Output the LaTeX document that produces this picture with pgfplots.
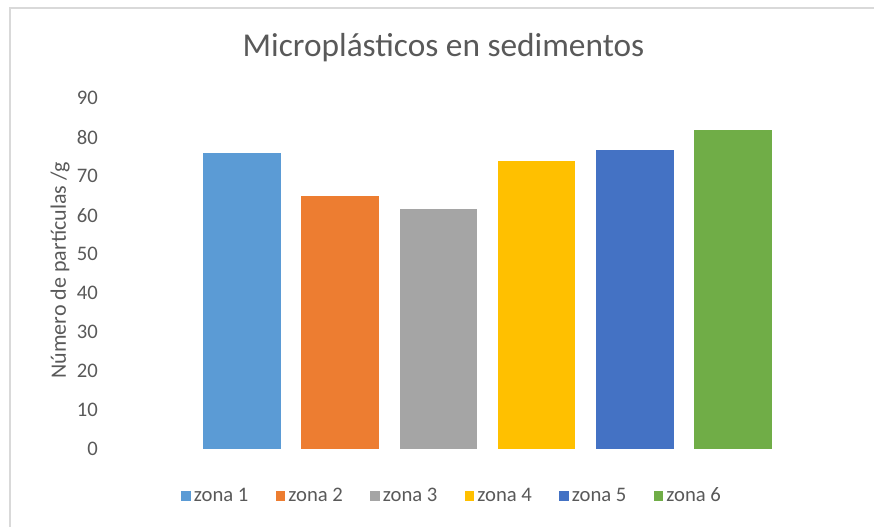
\documentclass[border=0pt]{standalone}
\usepackage{fontspec}
\setmainfont{Carlito}
\usepackage{pgfplots}
\pgfplotsset{compat=1.18}
\definecolor{zA}{HTML}{5B9BD5}
\definecolor{zB}{HTML}{ED7D31}
\definecolor{zC}{HTML}{A5A5A5}
\definecolor{zD}{HTML}{FFC000}
\definecolor{zE}{HTML}{4472C4}
\definecolor{zF}{HTML}{70AD47}
\definecolor{txt}{HTML}{595959}
\definecolor{frame}{HTML}{D9D9D9}
\begin{document}
\begin{tikzpicture}[x=0.75pt,y=0.75pt]
\path[use as bounding box] (0,0) rectangle (874,527);
\draw[frame, line width=1.5] (9.5,0) -- (9.5,519) -- (874,519);
\node[txt, font=\fontsize{25}{29}\selectfont] at (443.5,479) {Microplásticos en sedimentos};
\begin{axis}[
  at={(82.5pt,58.275pt)}, anchor=south west,
  scale only axis, width=566.25pt, height=263.25pt,
  xmin=-1.34, xmax=6.34, ymin=0, ymax=90,
  ytick={0,10,...,90}, xtick=\empty,
  axis line style={draw=none}, major tick length=0pt,
  /pgf/number format/assume math mode=true,
  tick label style={font=\fontsize{15.5}{18}\selectfont, text=txt},
  yticklabel style={inner sep=0pt, xshift=-9pt},
  ylabel={Número de partículas /g},
  every axis y label/.style={at={(axis description cs:-0.066,0.51)}, rotate=90, anchor=center, font=\fontsize{16.5}{19}\selectfont, text=txt},
  ybar, bar width=0.79, bar shift=0pt,
  legend columns=6,
  legend style={at={(axis description cs:0.454,-0.133)}, anchor=center, draw=none, fill=none,
    font=\fontsize{15.5}{18}\selectfont, text=txt,
    /tikz/every even column/.append style={column sep=18pt},
    nodes={inner sep=2.5pt}},
  legend image code/.code={\fill[#1] (0pt,-3.5pt) rectangle (7pt,3.5pt);},
]
\addplot[fill=zA, draw=none] coordinates {(0,75.9)};
\addplot[fill=zB, draw=none] coordinates {(1,65.0)};
\addplot[fill=zC, draw=none] coordinates {(2,61.5)};
\addplot[fill=zD, draw=none] coordinates {(3,74.0)};
\addplot[fill=zE, draw=none] coordinates {(4,76.7)};
\addplot[fill=zF, draw=none] coordinates {(5,81.8)};
\legend{zona 1, zona 2, zona 3, zona 4, zona 5, zona 6}
\end{axis}
\end{tikzpicture}
\end{document}
